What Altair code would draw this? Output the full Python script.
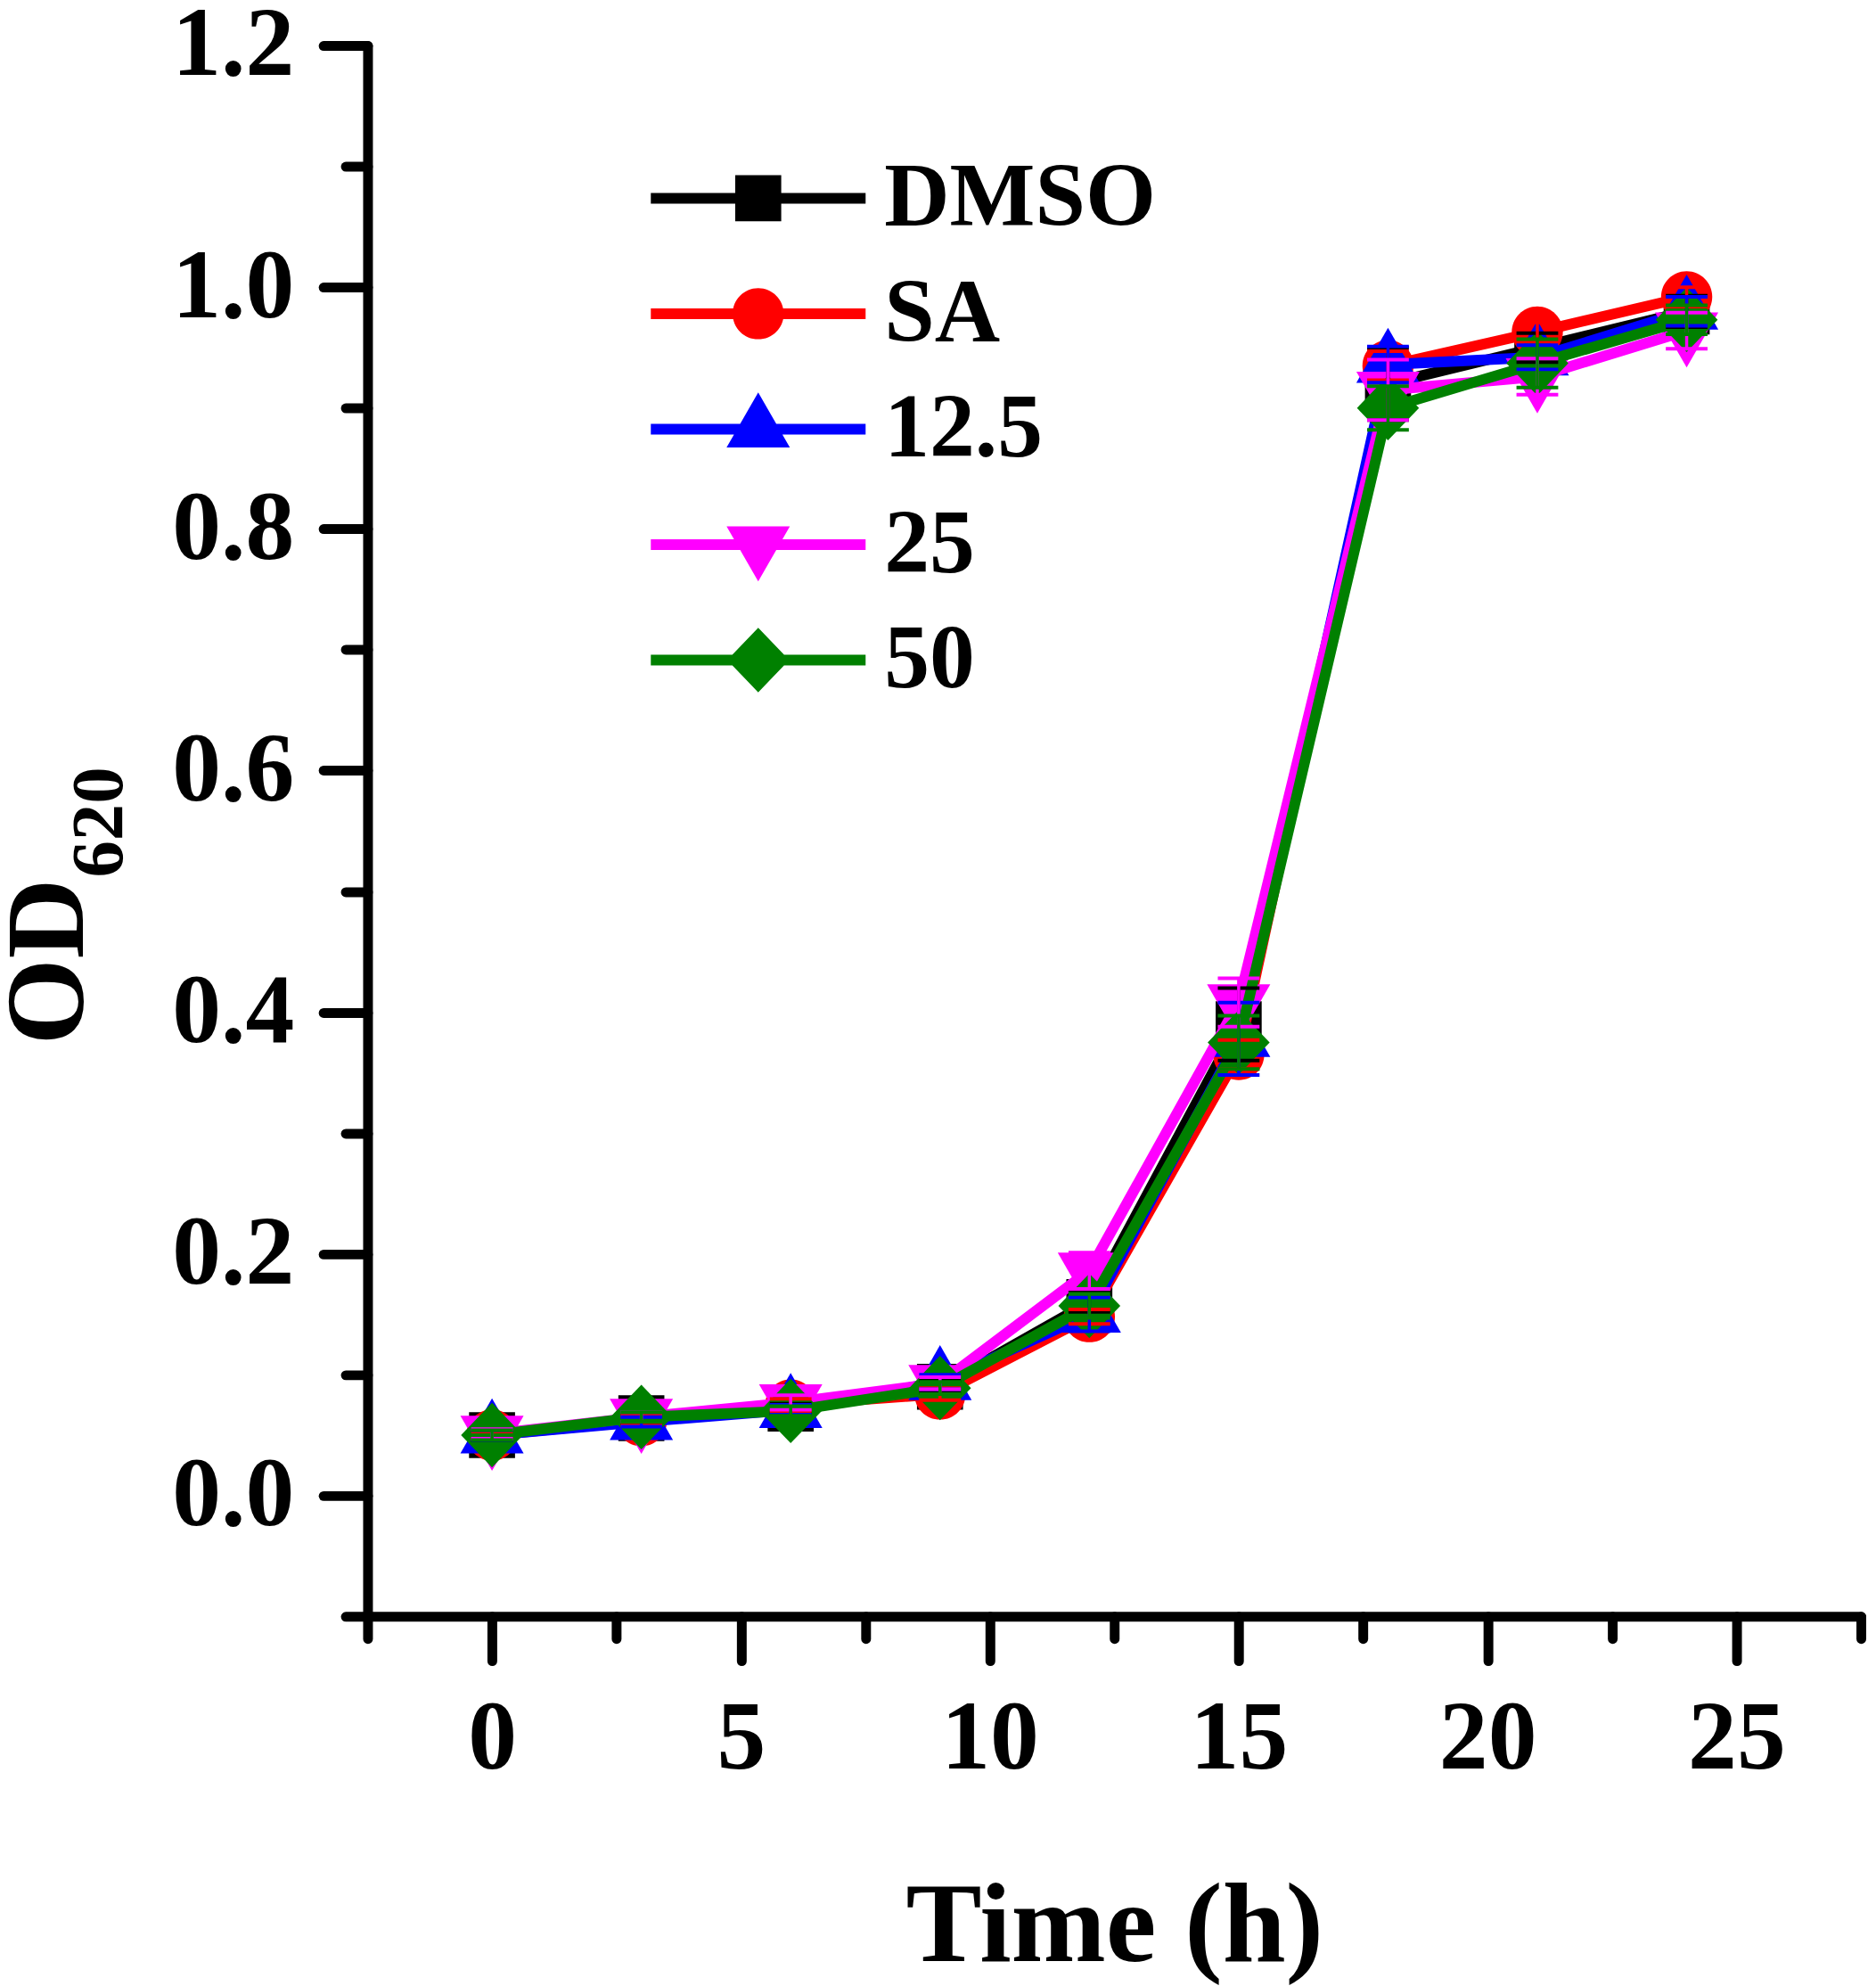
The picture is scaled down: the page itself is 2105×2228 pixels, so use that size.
import altair as alt
import pandas as pd

# ---------------- data ----------------
times = [0, 3, 6, 9, 12, 15, 18, 21, 24]
series_names = ["DMSO", "SA", "12.5", "25", "50"]

od_dmso = [0.050, 0.064, 0.072, 0.090, 0.160, 0.390, 0.920, 0.950, 0.980]
od_sa   = [0.050, 0.062, 0.075, 0.084, 0.148, 0.365, 0.935, 0.963, 0.992]
od_125  = [0.050, 0.061, 0.071, 0.094, 0.150, 0.378, 0.936, 0.942, 0.980]
od_25   = [0.051, 0.065, 0.077, 0.093, 0.186, 0.408, 0.915, 0.926, 0.964]
od_50   = [0.050, 0.065, 0.070, 0.089, 0.157, 0.375, 0.900, 0.937, 0.973]

sd_dmso = [0.004, 0.004, 0.004, 0.005, 0.008, 0.030, 0.030, 0.012, 0.013]
sd_sa   = [0.003, 0.004, 0.005, 0.005, 0.006, 0.012, 0.012, 0.008, 0.008]
sd_125  = [0.004, 0.004, 0.004, 0.006, 0.014, 0.030, 0.015, 0.010, 0.012]
sd_25   = [0.004, 0.004, 0.006, 0.005, 0.015, 0.020, 0.025, 0.015, 0.015]
sd_50   = [0.004, 0.004, 0.004, 0.005, 0.010, 0.022, 0.018, 0.020, 0.012]

x_tick_values = [-2.5, 0, 2.5, 5, 7.5, 10, 12.5, 15, 17.5, 20, 22.5, 25, 27.5]
y_tick_values = [-0.1, 0.0, 0.1, 0.2, 0.3, 0.4, 0.5, 0.6, 0.7, 0.8, 0.9, 1.0, 1.1, 1.2]
x_title = "Time (h)"
y_title = "OD"
y_title_sub = ["620"]

colors = ["#000000", "#FF0000", "#0000FF", "#FF00FF", "#008000"]

# marker shapes (custom paths, unit = sqrt(size)/2)
marker_paths = [
    "M-0.72,-0.72H0.72V0.72H-0.72Z",
    "M0.8,0A0.8,0.8 0 1,1 -0.8,0A0.8,0.8 0 1,1 0.8,0Z",
    "M0,-1.15L0.99,0.57L-0.99,0.57Z",
    "M0,1.15L-0.99,-0.57L0.99,-0.57Z",
    "M0,-1.01L0.97,0L0,1.01L-0.97,0Z",
]
line_piece = "M-3.36,-0.167H3.36V0.167H-3.36Z"
legend_paths = [line_piece + p for p in marker_paths]

all_vals = [od_dmso, od_sa, od_125, od_25, od_50]
all_sds = [sd_dmso, sd_sa, sd_125, sd_25, sd_50]

rows = []
for name, vals, sds in zip(series_names, all_vals, all_sds):
    for t, v, s in zip(times, vals, sds):
        rows.append({"series": name, "t": t, "v": v, "lo": v - s, "hi": v + s})
df = pd.DataFrame(rows)

FONT = "Liberation Serif"
MSIZE = 5184

xscale = alt.Scale(domain=[-2.5, 27.5], nice=False, zero=False)
yscale = alt.Scale(domain=[-0.1, 1.2], nice=False, zero=False)

xaxis = alt.Axis(
    values=x_tick_values,
    tickSize={"condition": {"test": "datum.value % 5 === 0", "value": 50}, "value": 25},
    tickWidth=11, tickColor="black", tickCap="round",
    domainWidth=11, domainColor="black", domainCap="round",
    labelExpr="datum.value % 5 === 0 ? format(datum.value, 'd') : ''",
    labelFont=FONT, labelFontSize=110, labelFontWeight="bold", labelColor="black",
    labelPadding=34, labelOverlap=False, labelFlush=False,
    grid=False,
    titleFont=FONT, titleFontSize=128, titleFontWeight="bold", titleColor="black",
    titleBaseline="alphabetic", titleAlign="center", titleX=841, titleY=388,
)
yaxis = alt.Axis(
    values=y_tick_values,
    tickSize={"condition": {"test": "abs(round(datum.value*10)) % 2 === 0", "value": 50}, "value": 25},
    tickWidth=11, tickColor="black", tickCap="round",
    domainWidth=11, domainColor="black", domainCap="round",
    labelExpr="abs(round(datum.value*10)) % 2 === 0 ? format(datum.value, '.1f') : ''",
    labelFont=FONT, labelFontSize=110, labelFontWeight="bold", labelColor="black",
    labelPadding=33, labelOverlap=False, labelFlush=False,
    grid=False,
    titleFont=FONT, titleFontSize=125, titleFontWeight="bold", titleColor="black",
    titleAngle=270, titleAlign="left", titleBaseline="alphabetic", titleX=-321, titleY=1125,
)


def X(field="t"):
    return alt.X(f"{field}:Q", scale=xscale, axis=xaxis, title=x_title)


def Y(field="v"):
    return alt.Y(f"{field}:Q", scale=yscale, axis=yaxis, title=y_title)


base = alt.Chart(df)
layers = []
for name, c, p in zip(series_names, colors, marker_paths):
    sub = base.transform_filter(alt.datum.series == name)
    layers.append(
        sub.mark_line(color=c, strokeWidth=12, strokeJoin="round", strokeCap="round")
        .encode(x=X(), y=Y())
    )
    layers.append(
        sub.mark_point(shape=p, size=MSIZE, filled=True, color=c, fill=c, opacity=1, strokeWidth=0)
        .encode(x=X(), y=Y())
    )

for name, c in zip(series_names, colors):
    sub = base.transform_filter(alt.datum.series == name)
    layers.append(
        sub.mark_rule(color=c, strokeWidth=3.5).encode(x=X(), y=Y("lo"), y2="hi:Q")
    )
    layers.append(
        sub.mark_tick(color=c, thickness=4, size=47, orient="horizontal", opacity=1)
        .encode(x=X(), y=Y("lo"))
    )
    layers.append(
        sub.mark_tick(color=c, thickness=4, size=47, orient="horizontal", opacity=1)
        .encode(x=X(), y=Y("hi"))
    )

leg = alt.Legend(
    title=None, orient="none", legendX=389, legendY=121, padding=0,
    symbolSize=MSIZE, symbolStrokeWidth=0, symbolOpacity=1,
    labelFont=FONT, labelFontWeight="bold", labelFontSize=102, labelColor="black",
    labelOffset=91, labelLimit=1000, rowPadding=28, labelBaseline="middle",
)
legend_layer = base.transform_filter("false").mark_point(
    filled=True, size=MSIZE, opacity=1, strokeWidth=0
).encode(
    x=X(), y=Y(),
    color=alt.Color("series:N", scale=alt.Scale(domain=series_names, range=colors), legend=leg),
    shape=alt.Shape("series:N", scale=alt.Scale(domain=series_names, range=legend_paths), legend=leg),
)
layers.append(legend_layer)

sub_layer = alt.Chart(pd.DataFrame({"sub": y_title_sub})).mark_text(
    angle=270, align="left", baseline="alphabetic", font=FONT, fontWeight="bold",
    fontSize=83, color="black"
).encode(text="sub:N", x=alt.value(-277), y=alt.value(937))
layers.append(sub_layer)

chart = alt.layer(*layers).properties(
    width=1682, height=1769,
    autosize=alt.AutoSizeParams(type="none"),
    padding={"left": 406, "top": 39, "right": 9, "bottom": 412},
    background="white",
).configure_view(strokeWidth=0)

chart.save("out.html", embed_options={"renderer": "svg", "actions": False})
